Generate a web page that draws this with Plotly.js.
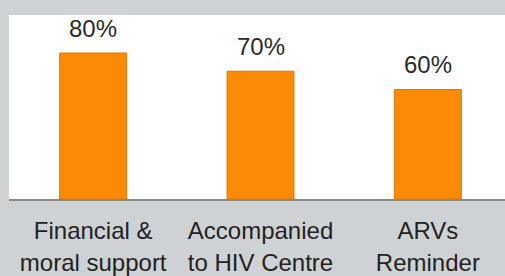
<!DOCTYPE html>
<html>
<head>
<meta charset="utf-8">
<script src="https://cdn.plot.ly/plotly-3.0.1.min.js"></script>
<style>html,body{margin:0;padding:0;background:#cfd2d5;}#chart{width:505px;height:276px;}</style>
</head>
<body>
<div id="chart"></div>
<script>
const categories = ["Financial & moral support", "Accompanied to HIV Centre", "ARVs Reminder"];
const tickLabels = ["Financial &amp;<br>moral support", "Accompanied<br>to HIV Centre", "ARVs<br>Reminder"];
const values = [80, 70, 60];
const valueLabels = ["80%", "70%", "60%"];

const trace = {
  type: "bar",
  x: categories,
  y: values,
  width: 0.4,
  marker: {color: "#fb8a07", line: {color: "#e27700", width: 1}},
  hoverinfo: "skip"
};

const annotations = categories.map((c, i) => ({
  x: c, y: values[i], xref: "x", yref: "y",
  text: valueLabels[i], showarrow: false,
  yanchor: "bottom", yshift: 9,
  font: {family: "Liberation Sans, Arial, sans-serif", size: 24, color: "#2a2a2a"}
}));

const layout = {
  width: 505, height: 276,
  margin: {l: 9, r: 0, t: 15, b: 77},
  paper_bgcolor: "#cfd2d5",
  plot_bgcolor: "#ffffff",
  showlegend: false,
  xaxis: {
    type: "category",
    range: [-0.503, 2.461],
    tickvals: categories,
    ticktext: tickLabels,
    ticks: "",
    ticklabelstandoff: 10,
    showline: true, linecolor: "#8a8a8a", linewidth: 1.5,
    showgrid: false, zeroline: false,
    tickfont: {family: "Liberation Sans, Arial, sans-serif", size: 24, color: "#222222"}
  },
  yaxis: {
    range: [0, 100.8],
    visible: false,
    showgrid: false, zeroline: false
  },
  annotations: annotations
};

Plotly.newPlot("chart", [trace], layout, {displayModeBar: false, staticPlot: true});
</script>
</body>
</html>
